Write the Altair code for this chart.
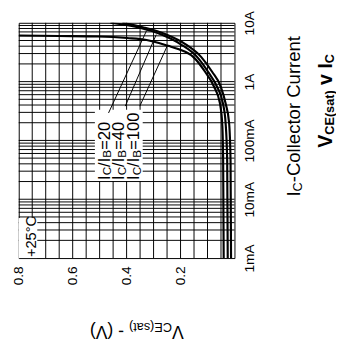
import altair as alt
import pandas as pd

# ---------------- data ----------------
SERIES = ["IC/IB=20", "IC/IB=40", "IC/IB=100"]

V_20 = [0.416, 0.333, 0.253, 0.181, 0.123, 0.083, 0.051, 0.033, 0.020, 0.0145, 0.0127]
IC_20 = [10, 8.25, 6.31, 4.30, 2.61, 1.47, 0.825, 0.430, 0.200, 0.0447, 0.001]

V_40 = [0.460, 0.351, 0.271, 0.199, 0.138, 0.098, 0.065, 0.043, 0.033, 0.027, 0.025]
IC_40 = [10, 8.25, 6.31, 4.30, 2.61, 1.47, 0.825, 0.430, 0.200, 0.0447, 0.001]

V_100 = [0.800, 0.652, 0.507, 0.398, 0.326, 0.246, 0.206, 0.152, 0.109, 0.076, 0.054, 0.045, 0.042, 0.040]
IC_100 = [6.07, 5.96, 5.84, 5.51, 5.11, 4.06, 3.55, 2.61, 1.47, 0.825, 0.430, 0.178, 0.0447, 0.001]

# leader lines from the labels to the curves
LEAD_V1 = [0.467, 0.405, 0.351]
LEAD_IC1 = [0.293, 0.383, 0.383]
LEAD_V2 = [0.326, 0.290, 0.250]
LEAD_IC2 = [7.36, 6.31, 3.98]

X_TICKS = [0.2, 0.4, 0.6, 0.8]
Y_TICKS = [0.001, 0.01, 0.1, 1, 10]
Y_TICK_LABELS = ["1mA", "10mA", "100mA", "1A", "10A"]

V_GRID = [0.05, 0.10, 0.15, 0.20, 0.25, 0.30, 0.35, 0.40,
          0.45, 0.50, 0.55, 0.60, 0.65, 0.70, 0.75]
IC_GRID = [m * d for d in (0.001, 0.01, 0.1, 1) for m in range(2, 10)] + [0.01, 0.1, 1]

# ---------------- helpers ----------------
FONT = "Liberation Sans"
W, H = 221, 241

REG = {'I': 278, 'C': 722, '/': 278, 'B': 667, '=': 584, '-': 333, 'o': 556, 'l': 222,
       'e': 556, 'c': 500, 't': 278, 'r': 333, ' ': 278, 'u': 556, 'n': 556, '+': 584,
       '°': 400, 'V': 667, '(': 333, ')': 333, 's': 500, 'a': 556, 'E': 667, 'v': 500,
       'm': 833, 'A': 667}
for d in "0123456789":
    REG[d] = 556
BOLD = dict(REG)
BOLD.update({'s': 556, 't': 333, 'v': 556})

ONE = pd.DataFrame({"a": [0]})


def text_run(pieces, x0, y0, angle):
    layers = []
    pos = 0.0
    for s, size, weight, shift in pieces:
        table = BOLD if weight == "bold" else REG
        w = sum(table.get(ch, 556) for ch in s) * size / 1000.0
        if s.strip():
            if angle == 270:
                x, y = x0 + shift, y0 - pos
            else:  # 180
                x, y = x0 - pos, y0 - shift
            layers.append(
                alt.Chart(ONE).mark_text(
                    text=s, angle=angle, align="left", baseline="alphabetic",
                    fontSize=size, fontWeight=weight, font=FONT, color="black"
                ).encode(x=alt.value(x), y=alt.value(y))
            )
        pos += w
    return layers


def box(x1, x2, y1, y2):
    return alt.Chart(ONE).mark_rect(color="white").encode(
        x=alt.value(x1), x2=alt.value(x2), y=alt.value(y1), y2=alt.value(y2))


xs = alt.Scale(domain=[0, 0.8], reverse=True, nice=False, zero=False)
ys = alt.Scale(type="log", domain=[0.001, 10], nice=False)

label_expr = " : ".join(
    f"datum.value > {t * 0.5} ? '{l}'" for t, l in
    zip(reversed(Y_TICKS[1:]), reversed(Y_TICK_LABELS[1:]))
) + f" : '{Y_TICK_LABELS[0]}'"

XAX = alt.Axis(
    values=X_TICKS, format=".1f", labelAngle=270, labelAlign="right",
    labelBaseline="middle", labelPadding=8, ticks=False, domain=False, grid=False,
    labelFontSize=14, labelFont=FONT, labelColor="black", title=None,
    labelOverlap=False, labelFlush=False, labelBound=False)
YAX = alt.Axis(
    orient="right", values=Y_TICKS, labelExpr=label_expr, labelAngle=270,
    labelAlign="center", labelBaseline="top", labelPadding=8, ticks=False,
    domain=False, grid=False, labelFontSize=14, labelFont=FONT,
    labelColor="black", title=None, labelOverlap=False, labelFlush=False,
    labelBound=False)

# ---------------- layers ----------------
rows = []
for name, vv, ii in [("IC/IB=20", V_20, IC_20), ("IC/IB=40", V_40, IC_40), ("IC/IB=100", V_100, IC_100)]:
    for k, (v, i) in enumerate(zip(vv, ii)):
        rows.append({"series": name, "v": v, "ic": i, "k": k})
curves_df = pd.DataFrame(rows)

vgrid = alt.Chart(pd.DataFrame({"v": V_GRID})).mark_rule(color="black", strokeWidth=1).encode(
    x=alt.X("v:Q", scale=xs, axis=XAX))
hgrid = alt.Chart(pd.DataFrame({"ic": IC_GRID})).mark_rule(color="black", strokeWidth=1).encode(
    y=alt.Y("ic:Q", scale=ys, axis=YAX))

curves = alt.Chart(curves_df).mark_line(
    interpolate="monotone", color="black", strokeWidth=2.2, clip=True
).encode(
    x=alt.X("v:Q", scale=xs, axis=XAX),
    y=alt.Y("ic:Q", scale=ys, axis=YAX),
    detail="series:N",
    order="k:Q",
)

leaders = alt.Chart(pd.DataFrame({"v": LEAD_V1, "ic": LEAD_IC1, "v2": LEAD_V2, "i2": LEAD_IC2})).mark_rule(
    color="black", strokeWidth=1).encode(
    x=alt.X("v:Q", scale=xs, axis=XAX), x2="v2:Q",
    y=alt.Y("ic:Q", scale=ys, axis=YAX), y2="i2:Q")

texts = []
# chart title on the right
texts += text_run([("V", 20, "bold", 0), ("CE(sat)", 13, "bold", 2), (" ", 20, "bold", 0),
                   ("v", 20, "bold", 0), (" ", 20, "bold", 0), ("I", 20, "bold", 0),
                   ("C", 13, "bold", 2)], 321, 128, 270)
# y axis title
texts += text_run([("I", 19, "normal", 0), ("C", 13, "normal", 2),
                   ("-Collector Current", 19, "normal", 0)], 288, 178, 270)
# x axis title (upside down)
texts += text_run([("V", 18, "normal", 0), ("CE(sat)", 13, "normal", 3), (" ", 18, "normal", 0),
                   ("- (V)", 18, "normal", 0)], 169, 311, 180)
# series labels
for xb, num in zip([93, 108, 123], ["20", "40", "100"]):
    texts += text_run([("I", 17, "normal", 0), ("C", 12, "normal", 2), ("/", 17, "normal", 0),
                       ("I", 17, "normal", 0), ("B", 12, "normal", 2), ("=" + num, 17, "normal", 0)],
                      xb, 161, 270)
texts += text_run([("+25°C", 15, "normal", 0)], 18, 240, 270)

chart = alt.layer(
    vgrid, hgrid, box(78, 127, 89, 162), box(0, 19, 200, 241), curves, leaders, *texts
).properties(
    width=W, height=H,
    autosize=alt.AutoSizeParams(type="none"),
    padding={"left": 11, "top": 11, "right": 104, "bottom": 89},
    background="white",
).configure_view(stroke="black", strokeWidth=1)

chart.save("out.html", embed_options={"renderer": "svg", "actions": False})
